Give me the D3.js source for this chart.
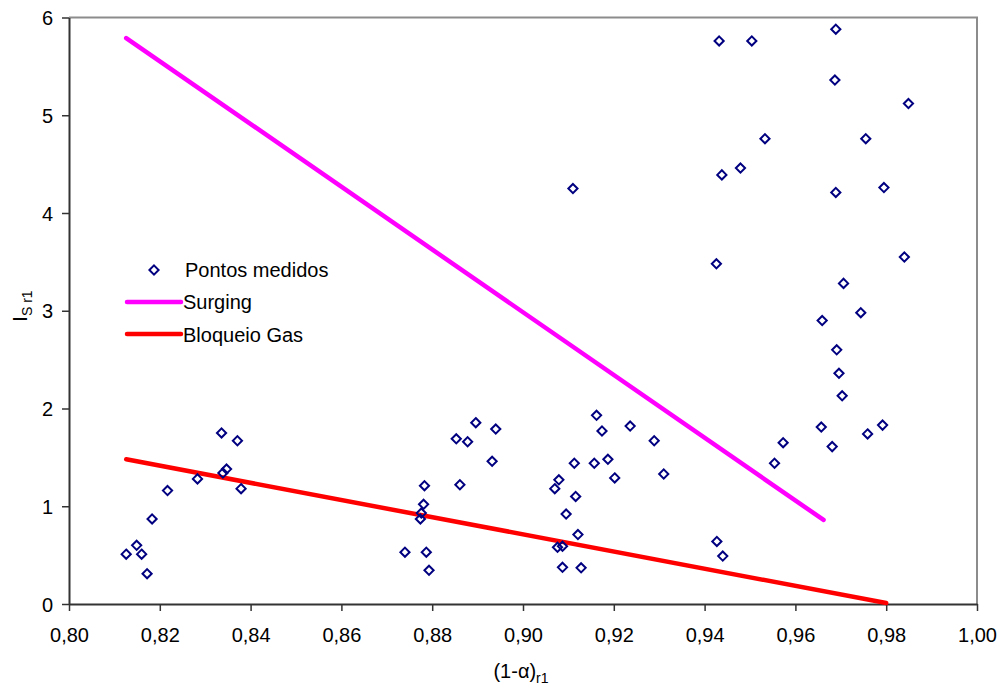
<!DOCTYPE html>
<html><head><meta charset="utf-8">
<script src="https://cdn.jsdelivr.net/npm/d3@7"></script>
<style>
body{margin:0;background:#fff;}
text{font-family:"Liberation Sans",Arial,sans-serif;}
</style></head>
<body><svg id="c" width="1000" height="690"></svg>
<script>
const pointsX = [0.8126,0.8149,0.8160,0.8172,0.8183,0.8217,0.8283,0.8336,0.8339,0.8347,0.8371,0.8379,
 0.8896,0.8940,0.8853,0.8878,0.8932,0.8783,0.8861,0.8781,0.8776,0.8774,0.8740,0.8787,0.8793,
 0.9162,0.9174,0.9236,0.9289,0.9113,0.9157,0.9187,0.9202,0.9310,0.9079,0.9070,0.9116,0.9095,0.9121,0.9076,0.9087,0.9087,0.9128,0.9110,
 0.9427,0.9440,
 0.9432,0.9504,0.9689,0.9687,0.9849,0.9533,0.9755,0.9479,0.9438,0.9689,0.9795,0.9426,0.9840,0.9706,0.9744,
 0.9659,0.9691,0.9696,0.9703,0.9657,0.9759,0.9792,0.9573,0.9681,0.9554];
const pointsY = [0.51,0.60,0.51,0.31,0.87,1.16,1.28,1.75,1.34,1.38,1.67,1.18,
 1.855,1.79,1.69,1.66,1.46,1.21,1.22,1.02,0.93,0.87,0.53,0.53,0.345,
 1.93,1.77,1.82,1.67,1.44,1.44,1.48,1.29,1.33,1.27,1.18,1.10,0.92,0.71,0.58,0.59,0.375,0.37,4.25,
 0.64,0.49,
 5.76,5.76,5.88,5.36,5.12,4.76,4.76,4.46,4.39,4.21,4.26,3.48,3.55,3.28,2.98,
 2.90,2.60,2.36,2.13,1.81,1.74,1.83,1.65,1.61,1.44];
const surgingX = [0.8126, 0.9662];
const surgingY = [5.79, 0.86];
const bloqueioX = [0.8126, 0.9800];
const bloqueioY = [1.48, 0.01];
const xTicks = [0.80,0.82,0.84,0.86,0.88,0.90,0.92,0.94,0.96,0.98,1.00];
const yTicks = [0,1,2,3,4,5,6];

const svg = d3.select("#c");
const L=69, R=977, T=17.5, B=604;
const FS=20;
const x = d3.scaleLinear().domain([0.8,1.0]).range([L,R]);
const y = d3.scaleLinear().domain([0,6]).range([B,T]);

svg.append("path").attr("d",`M${L},${T}H${R}V${B}`).attr("fill","none").attr("stroke","#8c8c8c").attr("stroke-width",2);

const fmt = d => d.toFixed(2).replace(".",",");
const xa = svg.append("g").attr("transform",`translate(0,${B})`)
  .call(d3.axisBottom(x).tickValues(xTicks).tickFormat(fmt).tickSize(7).tickSizeOuter(0));
const ya = svg.append("g").attr("transform",`translate(${L},0)`)
  .call(d3.axisLeft(y).tickValues(yTicks).tickFormat(d3.format("d")).tickSize(7).tickSizeOuter(0));
[xa,ya].forEach(a=>{
  a.attr("font-size",FS).attr("font-family","Liberation Sans, Arial, sans-serif");
  a.select(".domain").attr("stroke","#333").attr("stroke-width",2);
  a.selectAll(".tick line").attr("stroke","#333").attr("stroke-width",1.5);
  a.selectAll(".tick text").attr("fill","#000");
});
xa.selectAll(".tick text").attr("y",14).attr("dy","1.2em");
ya.selectAll(".tick text").attr("x",-16).attr("dy","0.36em");

const line = d3.line().x(d=>x(d[0])).y(d=>y(d[1]));
svg.append("path").datum(d3.zip(surgingX,surgingY)).attr("d",line)
  .attr("stroke","#ff00ff").attr("stroke-width",4.5).attr("fill","none").attr("stroke-linecap","round");
svg.append("path").datum(d3.zip(bloqueioX,bloqueioY)).attr("d",line)
  .attr("stroke","#ff0000").attr("stroke-width",4.5).attr("fill","none").attr("stroke-linecap","round");

const diamond = (cx,cy,r)=>`M${cx},${cy-r}L${cx+r},${cy}L${cx},${cy+r}L${cx-r},${cy}Z`;
svg.append("g").selectAll("path").data(d3.zip(pointsX,pointsY)).join("path")
  .attr("d",d=>diamond(x(d[0]),y(d[1]),4.6))
  .attr("fill","none").attr("stroke","#000080").attr("stroke-width",2);

const lg = svg.append("g").attr("font-size",FS);
lg.append("path").attr("d",diamond(154,270,4.6)).attr("fill","none").attr("stroke","#000080").attr("stroke-width",2);
lg.append("text").attr("x",185).attr("y",277).text("Pontos medidos");
lg.append("line").attr("x1",127).attr("x2",181).attr("y1",302).attr("y2",302).attr("stroke","#ff00ff").attr("stroke-width",4.5).attr("stroke-linecap","round");
lg.append("text").attr("x",183).attr("y",309).text("Surging");
lg.append("line").attr("x1",127).attr("x2",181).attr("y1",334).attr("y2",334).attr("stroke","#ff0000").attr("stroke-width",4.5).attr("stroke-linecap","round");
lg.append("text").attr("x",183).attr("y",342).text("Bloqueio Gas");

const xt = svg.append("text").attr("x",521).attr("y",678).attr("text-anchor","middle").attr("font-size",FS);
xt.append("tspan").text("(1-α)");
xt.append("tspan").attr("font-size",14).attr("dy",5).text("r1");
const yt = svg.append("text").attr("transform","translate(27,306) rotate(-90)").attr("text-anchor","middle").attr("font-size",FS);
yt.append("tspan").text("I");
yt.append("tspan").attr("font-size",14).attr("dy",5).text("S r1");
</script></body></html>
